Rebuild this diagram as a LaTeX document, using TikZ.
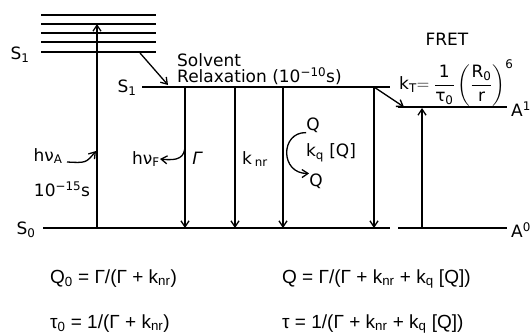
\documentclass[tikz,border=0pt]{standalone}
\usepackage{amsmath}
\usepackage{fontspec}
\setmainfont{DejaVu Sans}
\newfontfamily\eqfont{Liberation Sans}
\usetikzlibrary{arrows.meta}

\tikzset{
  level/.style={line width=1.6pt},
  trans/.style={line width=1.3pt,-{Straight Barb[length=6pt,width=8pt]}},
  lbl/.style={inner sep=0pt,font=\fontsize{17}{18}\selectfont},
  eq/.style={inner sep=0pt,anchor=base west,font=\eqfont\fontsize{19}{20}\selectfont}
}

\begin{document}
\begin{tikzpicture}[x=1pt,y=-1pt]
\fill[white] (0,0) rectangle (531,335);
\useasboundingbox (0,0) rectangle (531,335);

% energy levels
\foreach \y in {15,24,33,42,52}{\draw[level] (41,\y) -- (156,\y);}
\coordinate (s1l) at (142,87); \coordinate (s1r) at (390,87);
\coordinate (s0l) at (43,228); \coordinate (s0r) at (390,228);
\coordinate (a1l) at (398,107); \coordinate (a1r) at (507,107);
\coordinate (a0l) at (398,228); \coordinate (a0r) at (507,228);
\draw[level] (s1l) -- (s1r);
\draw[level] (s0l) -- (s0r);
\draw[level] (a1l) -- (a1r);
\draw[level] (a0l) -- (a0r);

\node[lbl] (S1v) at (20,55) {S\textsubscript{1}};
\node[lbl] (S1) at (127,88) {S\textsubscript{1}};
\node[lbl] (S0) at (26,230) {S\textsubscript{0}};
\node[lbl,anchor=west] (A1) at (511,109) {A\textsuperscript{1}};
\node[lbl,anchor=west] (A0) at (511,230) {A\textsuperscript{0}};

% absorption and relaxation
\coordinate (ab0) at (97,228); \coordinate (ab1) at (97,24);
\draw[trans] (ab0) -- (ab1);
\coordinate (sr0) at (140,53); \coordinate (sr1) at (168,85);
\draw[trans] (sr0) -- (sr1);
\node[lbl,anchor=north west,align=left,font=\fontsize{17}{15}\selectfont] (relax) at (177,53)
  {Solvent\\Relaxation (10\textsuperscript{−10}s)};

% decay channels
\foreach \x/\n in {185/fl,235/nr,283/qu,374/et}{
  \coordinate (\n1) at (\x,87); \coordinate (\n0) at (\x,228);
  \draw[trans] (\n1) -- (\n0);
}

\node[lbl] (hvA) at (48,156) {hν\textsubscript{A}};
\node[lbl] (tA) at (62,189) {10\textsuperscript{−15}s};
\coordinate (hvAt) at (67,162); \coordinate (hvAh) at (96,151);
\draw[trans] (hvAt) .. controls (86,163) .. (hvAh);

\node[lbl] (hvF) at (146,159) {hν\textsubscript{F}};
\coordinate (hvFt) at (185,145);
\draw[trans] (hvFt) .. controls (185,158) and (178,161) .. (hvF.east);
\node[lbl] (gam) at (197,158) {\itshape Γ};
\node[lbl] (knr) at (255,159) {k\,\textsubscript{nr}};

\node[lbl] (Q1) at (313,125) {Q};
\node[lbl] (kq) at (331,153) {k\textsubscript{q} [Q]};
\node[lbl] (Q2) at (316,181) {Q};
\draw[trans] (Q1.south west) .. controls (280,132) and (280,174) .. (Q2.north west);

% energy transfer
\coordinate (et2) at (404,107);
\draw[trans] (et1) -- (et2);
\coordinate (ac0) at (422,228); \coordinate (ac1) at (422,108);
\draw[trans] (ac0) -- (ac1);
\node[lbl] (fret) at (447,39) {FRET};
\node[lbl,anchor=west] (kT) at (399,83)
  {k\textsubscript{T}$=\dfrac{\text{1}}{\text{τ\textsubscript{0}}}\left(\dfrac{\text{R\textsubscript{0}}}{\text{r}}\right)^{\text{6}}$};

% yields and lifetimes
\node[eq] (Q0eq) at (50,283) {Q\textsubscript{0} = Γ/(Γ + k\textsubscript{nr})};
\node[eq] (Qeq) at (282,283) {Q = Γ/(Γ + k\textsubscript{nr} + k\textsubscript{q} [Q])};
\node[eq] (t0eq) at (50,328) {τ\textsubscript{0} = 1/(Γ + k\textsubscript{nr})};
\node[eq] (teq) at (282,328) {τ = 1/(Γ + k\textsubscript{nr} + k\textsubscript{q} [Q])};
\end{tikzpicture}
\end{document}
